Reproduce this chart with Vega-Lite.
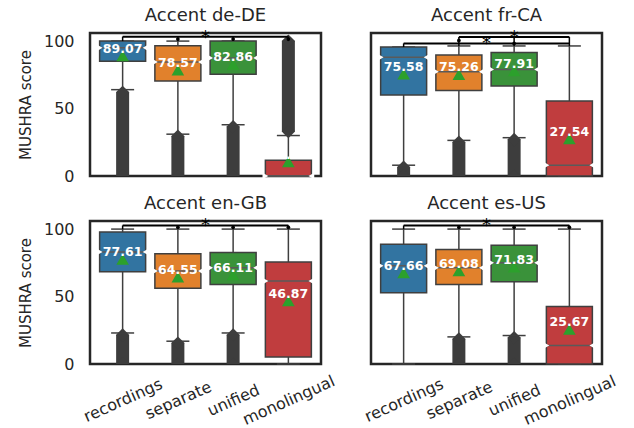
{
  "$schema": "https://vega.github.io/schema/vega-lite/v6.json",
  "padding": {"left": 18, "top": 5, "right": 5, "bottom": 0},
  "background": "white",
  "config": {
    "font": "DejaVu Sans",
    "view": {"stroke": "#262626", "strokeWidth": 2.5},
    "axis": {"grid": false, "ticks": false, "domain": false, "labelColor": "#262626", "labelFontSize": 16, "titleFontSize": 15, "titleFontWeight": "normal", "titleColor": "#262626", "labelFont": "DejaVu Sans", "titleFont": "DejaVu Sans"},
    "axisY": {"labelPadding": 14, "titlePadding": 10},
    "axisX": {"labelAngle": -24, "labelAlign": "center", "labelBaseline": "middle", "labelPadding": 34, "labelOverlap": false, "labelBound": false, "labelFlush": false},
    "header": {"labelFontSize": 18, "labelColor": "#262626", "labelFont": "DejaVu Sans", "labelPadding": 4}
  },
  "data": {"values": [
    {"kind":"box","panel":"Accent de-DE","group":"recordings","pos":0,"q1":85,"med":95,"q3":100,"wlo":64,"whi":100,"mean":89.07,"olo":0,"ohi":62},
    {"kind":"box","panel":"Accent de-DE","group":"separate","pos":1,"q1":70.5,"med":84.5,"q3":96.5,"wlo":31,"whi":100,"mean":78.57,"olo":0,"ohi":29.5},
    {"kind":"box","panel":"Accent de-DE","group":"unified","pos":2,"q1":75.5,"med":87.5,"q3":100,"wlo":38,"whi":100,"mean":82.86,"olo":0,"ohi":36.5},
    {"kind":"box","panel":"Accent de-DE","group":"monolingual","pos":3,"q1":0,"med":0,"q3":11.6,"wlo":0,"whi":30,"mean":10.6,"olo":33,"ohi":100},
    {"kind":"box","panel":"Accent fr-CA","group":"recordings","pos":0,"q1":60,"med":88,"q3":95.6,"wlo":8,"whi":95.6,"mean":75.58,"olo":0,"ohi":6.5},
    {"kind":"box","panel":"Accent fr-CA","group":"separate","pos":1,"q1":63.4,"med":77.3,"q3":89.7,"wlo":26.4,"whi":96.4,"mean":75.26,"olo":0,"ohi":25},
    {"kind":"box","panel":"Accent fr-CA","group":"unified","pos":2,"q1":66.7,"med":79,"q3":91.6,"wlo":28.4,"whi":96.4,"mean":77.91,"olo":0,"ohi":27},
    {"kind":"box","panel":"Accent fr-CA","group":"monolingual","pos":3,"q1":0,"med":8,"q3":55.6,"wlo":0,"whi":96.4,"mean":27.54},
    {"kind":"box","panel":"Accent en-GB","group":"recordings","pos":0,"q1":68.4,"med":83.1,"q3":97.8,"wlo":23,"whi":100,"mean":77.61,"olo":0,"ohi":21.5},
    {"kind":"box","panel":"Accent en-GB","group":"separate","pos":1,"q1":56.1,"med":68.9,"q3":81.8,"wlo":16.9,"whi":100,"mean":64.55,"olo":0,"ohi":15.5},
    {"kind":"box","panel":"Accent en-GB","group":"unified","pos":2,"q1":59,"med":71.3,"q3":82.6,"wlo":23,"whi":100,"mean":66.11,"olo":0,"ohi":21.5},
    {"kind":"box","panel":"Accent en-GB","group":"monolingual","pos":3,"q1":5.1,"med":61.5,"q3":75.7,"wlo":0,"whi":100,"mean":46.87},
    {"kind":"box","panel":"Accent es-US","group":"recordings","pos":0,"q1":52.9,"med":72.8,"q3":88.7,"wlo":0,"whi":100,"mean":67.66},
    {"kind":"box","panel":"Accent es-US","group":"separate","pos":1,"q1":59,"med":71.3,"q3":84.8,"wlo":20.1,"whi":100,"mean":69.08,"olo":0,"ohi":18.5},
    {"kind":"box","panel":"Accent es-US","group":"unified","pos":2,"q1":61,"med":75,"q3":88,"wlo":21.1,"whi":100,"mean":71.83,"olo":0,"ohi":19.5},
    {"kind":"box","panel":"Accent es-US","group":"monolingual","pos":3,"q1":0,"med":13.7,"q3":42.6,"wlo":0,"whi":100,"mean":25.67},
    {"kind":"bracket","panel":"Accent de-DE","pos":0,"pos2":3,"level":103.3},
    {"kind":"bracket","panel":"Accent fr-CA","pos":0,"pos2":3,"level":98.3},
    {"kind":"bracket","panel":"Accent fr-CA","pos":1,"pos2":3,"level":103},
    {"kind":"bracket","panel":"Accent en-GB","pos":0,"pos2":3,"level":102.7},
    {"kind":"bracket","panel":"Accent es-US","pos":0,"pos2":3,"level":102.7},
    {"kind":"drop","panel":"Accent de-DE","pos":0,"level":103.3,"bottom":100},
    {"kind":"drop","panel":"Accent de-DE","pos":1,"level":103.3,"bottom":100},
    {"kind":"drop","panel":"Accent de-DE","pos":2,"level":103.3,"bottom":100},
    {"kind":"drop","panel":"Accent de-DE","pos":3,"level":103.3,"bottom":100},
    {"kind":"drop","panel":"Accent fr-CA","pos":0,"level":98.3,"bottom":95.6},
    {"kind":"drop","panel":"Accent fr-CA","pos":1,"level":103,"bottom":96.4},
    {"kind":"drop","panel":"Accent fr-CA","pos":2,"level":103,"bottom":96.4},
    {"kind":"drop","panel":"Accent fr-CA","pos":3,"level":103,"bottom":96.4},
    {"kind":"drop","panel":"Accent en-GB","pos":0,"level":102.7,"bottom":100},
    {"kind":"drop","panel":"Accent en-GB","pos":1,"level":102.7,"bottom":100},
    {"kind":"drop","panel":"Accent en-GB","pos":2,"level":102.7,"bottom":100},
    {"kind":"drop","panel":"Accent en-GB","pos":3,"level":102.7,"bottom":100},
    {"kind":"drop","panel":"Accent es-US","pos":0,"level":102.7,"bottom":100},
    {"kind":"drop","panel":"Accent es-US","pos":1,"level":102.7,"bottom":100},
    {"kind":"drop","panel":"Accent es-US","pos":2,"level":102.7,"bottom":100},
    {"kind":"drop","panel":"Accent es-US","pos":3,"level":102.7,"bottom":100},
    {"kind":"dot","panel":"Accent de-DE","pos":1,"level":101.5},
    {"kind":"dot","panel":"Accent de-DE","pos":2,"level":101.5},
    {"kind":"dot","panel":"Accent de-DE","pos":3,"level":101.5},
    {"kind":"dot","panel":"Accent fr-CA","pos":1,"level":100.5},
    {"kind":"dot","panel":"Accent fr-CA","pos":2,"level":98.3},
    {"kind":"dot","panel":"Accent en-GB","pos":1,"level":101.3},
    {"kind":"dot","panel":"Accent en-GB","pos":2,"level":101.3},
    {"kind":"dot","panel":"Accent en-GB","pos":3,"level":101.3},
    {"kind":"dot","panel":"Accent es-US","pos":1,"level":101.3},
    {"kind":"dot","panel":"Accent es-US","pos":2,"level":101.3},
    {"kind":"dot","panel":"Accent es-US","pos":3,"level":101.3},
    {"kind":"star","panel":"Accent de-DE","pos":1.5,"level":103.3},
    {"kind":"star","panel":"Accent fr-CA","pos":1.5,"level":98.3},
    {"kind":"star","panel":"Accent fr-CA","pos":2,"level":103},
    {"kind":"star","panel":"Accent en-GB","pos":1.5,"level":102.7},
    {"kind":"star","panel":"Accent es-US","pos":1.5,"level":102.7}
  ]},
  "facet": {"field": "panel", "type": "nominal", "sort": ["Accent de-DE", "Accent fr-CA", "Accent en-GB", "Accent es-US"], "header": {"title": null}},
  "columns": 2,
  "spacing": {"column": 46, "row": 13},
  "spec": {
    "width": 231,
    "height": 143,
    "layer": [
      {
        "transform": [{"filter": "datum.kind == 'box' && isValid(datum.olo)"}],
        "mark": {"type": "bar", "size": 13, "color": "#3d3d3d", "clip": true},
        "encoding": {
          "x": {"field": "pos", "type": "quantitative", "title": null, "scale": {"domain": [-0.5, 3.5], "nice": false, "zero": false}, "axis": {"values": [0, 1, 2, 3], "labelExpr": "['recordings','separate','unified','monolingual'][datum.value]"}},
          "y": {"field": "olo", "type": "quantitative", "title": "MUSHRA score", "scale": {"domain": [0, 106], "nice": false, "zero": false}, "axis": {"values": [0, 50, 100]}},
          "y2": {"field": "ohi"}
        }
      },
      {
        "transform": [{"filter": "datum.kind == 'box' && isValid(datum.olo)"}],
        "mark": {"type": "point", "shape": "diamond", "filled": true, "size": 180, "color": "#3d3d3d", "opacity": 1, "clip": true},
        "encoding": {
          "x": {"field": "pos", "type": "quantitative", "title": null},
          "y": {"field": "ohi", "type": "quantitative", "title": "MUSHRA score"}
        }
      },
      {
        "transform": [{"filter": "datum.kind == 'box' && isValid(datum.olo)"}],
        "mark": {"type": "point", "shape": "diamond", "filled": true, "size": 180, "color": "#3d3d3d", "opacity": 1, "clip": true},
        "encoding": {
          "x": {"field": "pos", "type": "quantitative", "title": null},
          "y": {"field": "olo", "type": "quantitative", "title": "MUSHRA score"}
        }
      },
      {
        "transform": [{"filter": "datum.kind == 'box'"}],
        "mark": {"type": "rule", "color": "#3f3f3f", "strokeWidth": 1.5},
        "encoding": {
          "x": {"field": "pos", "type": "quantitative", "title": null},
          "y": {"field": "wlo", "type": "quantitative", "title": "MUSHRA score"},
          "y2": {"field": "whi"}
        }
      },
      {
        "transform": [{"filter": "datum.kind == 'box'"}],
        "mark": {"type": "tick", "orient": "horizontal", "size": 23, "thickness": 1.5, "color": "#3f3f3f", "opacity": 1},
        "encoding": {
          "x": {"field": "pos", "type": "quantitative", "title": null},
          "y": {"field": "wlo", "type": "quantitative", "title": "MUSHRA score"}
        }
      },
      {
        "transform": [{"filter": "datum.kind == 'box'"}],
        "mark": {"type": "tick", "orient": "horizontal", "size": 23, "thickness": 1.5, "color": "#3f3f3f", "opacity": 1},
        "encoding": {
          "x": {"field": "pos", "type": "quantitative", "title": null},
          "y": {"field": "whi", "type": "quantitative", "title": "MUSHRA score"}
        }
      },
      {
        "transform": [{"filter": "datum.kind == 'box'"}],
        "mark": {"type": "bar", "size": 46, "stroke": "#3f3f3f", "strokeWidth": 1.5, "opacity": 1},
        "encoding": {
          "x": {"field": "pos", "type": "quantitative", "title": null},
          "y": {"field": "q1", "type": "quantitative", "title": "MUSHRA score"},
          "y2": {"field": "q3"},
          "color": {"field": "group", "type": "nominal", "legend": null, "scale": {"domain": ["recordings", "separate", "unified", "monolingual"], "range": ["#3274a1", "#e1812c", "#3a923a", "#c03d3e"]}}
        }
      },
      {
        "transform": [{"filter": "datum.kind == 'box'"}],
        "mark": {"type": "tick", "orient": "horizontal", "size": 46, "thickness": 1.5, "color": "#5a5a5a", "opacity": 1},
        "encoding": {
          "x": {"field": "pos", "type": "quantitative", "title": null},
          "y": {"field": "med", "type": "quantitative", "title": "MUSHRA score"}
        }
      },
      {
        "transform": [{"filter": "datum.kind == 'box'"}],
        "mark": {"type": "point", "shape": "triangle-right", "filled": true, "size": 45, "color": "white", "opacity": 1, "xOffset": -23},
        "encoding": {
          "x": {"field": "pos", "type": "quantitative", "title": null},
          "y": {"field": "med", "type": "quantitative", "title": "MUSHRA score"}
        }
      },
      {
        "transform": [{"filter": "datum.kind == 'box'"}],
        "mark": {"type": "point", "shape": "triangle-left", "filled": true, "size": 45, "color": "white", "opacity": 1, "xOffset": 23},
        "encoding": {
          "x": {"field": "pos", "type": "quantitative", "title": null},
          "y": {"field": "med", "type": "quantitative", "title": "MUSHRA score"}
        }
      },
      {
        "transform": [{"filter": "datum.kind == 'box'"}],
        "mark": {"type": "point", "shape": "triangle-up", "filled": true, "size": 160, "color": "#2ca02c", "opacity": 1},
        "encoding": {
          "x": {"field": "pos", "type": "quantitative", "title": null},
          "y": {"field": "mean", "type": "quantitative", "title": "MUSHRA score"}
        }
      },
      {
        "transform": [{"filter": "datum.kind == 'box'"}],
        "mark": {"type": "text", "color": "white", "fontWeight": "bold", "fontSize": 12.5, "baseline": "alphabetic", "dy": -3, "font": "DejaVu Sans"},
        "encoding": {
          "x": {"field": "pos", "type": "quantitative", "title": null},
          "y": {"field": "mean", "type": "quantitative", "title": "MUSHRA score"},
          "text": {"field": "mean", "type": "quantitative", "format": ".2f"}
        }
      },
      {
        "transform": [{"filter": "datum.kind == 'bracket'"}],
        "mark": {"type": "rule", "color": "black", "strokeWidth": 2},
        "encoding": {
          "x": {"field": "pos", "type": "quantitative", "title": null},
          "x2": {"field": "pos2"},
          "y": {"field": "level", "type": "quantitative", "title": "MUSHRA score"}
        }
      },
      {
        "transform": [{"filter": "datum.kind == 'drop'"}],
        "mark": {"type": "rule", "color": "black", "strokeWidth": 1.5},
        "encoding": {
          "x": {"field": "pos", "type": "quantitative", "title": null},
          "y": {"field": "level", "type": "quantitative", "title": "MUSHRA score"},
          "y2": {"field": "bottom"}
        }
      },
      {
        "transform": [{"filter": "datum.kind == 'dot'"}],
        "mark": {"type": "point", "shape": "circle", "filled": true, "size": 14, "color": "black", "opacity": 1},
        "encoding": {
          "x": {"field": "pos", "type": "quantitative", "title": null},
          "y": {"field": "level", "type": "quantitative", "title": "MUSHRA score"}
        }
      },
      {
        "transform": [{"filter": "datum.kind == 'star'"}],
        "mark": {"type": "text", "text": "*", "color": "black", "fontSize": 18, "baseline": "alphabetic", "dy": 6, "font": "DejaVu Sans"},
        "encoding": {
          "x": {"field": "pos", "type": "quantitative", "title": null},
          "y": {"field": "level", "type": "quantitative", "title": "MUSHRA score"}
        }
      }
    ]
  }
}
